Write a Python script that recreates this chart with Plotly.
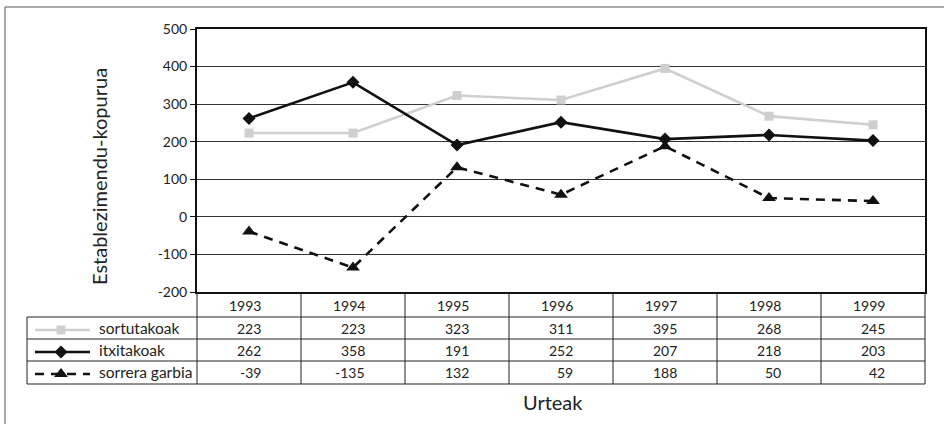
import plotly.graph_objects as go

years = ["1993", "1994", "1995", "1996", "1997", "1998", "1999"]
sortutakoak = [223, 223, 323, 311, 395, 268, 245]
itxitakoak = [262, 358, 191, 252, 207, 218, 203]
sorrera_garbia = [-39, -135, 132, 59, 188, 50, 42]
series_names = ["sortutakoak", "itxitakoak", "sorrera garbia"]
y_ticks = [-200, -100, 0, 100, 200, 300, 400, 500]

W, H = 944, 424
FONT = "Lato"
PL, PR, PT, PB = 197, 925, 29, 292  # plot area in pixels


def px(x):
    return x / W


def py(y):
    return 1 - y / H


fig = go.Figure()

styles = [
    dict(color="#cfcfcf", width=2.6, dash="solid", symbol="square", size=9),
    dict(color="#111111", width=2.6, dash="solid", symbol="diamond", size=10),
    dict(color="#111111", width=2.6, dash="9px,7px", symbol="triangle-up", size=12),
]
series = [sortutakoak, itxitakoak, sorrera_garbia]

for name, vals, st in zip(series_names, series, styles):
    fig.add_trace(go.Scatter(
        x=years, y=vals, mode="lines+markers", name=name,
        line=dict(color=st["color"], width=st["width"], dash=st["dash"]),
        marker=dict(symbol=st["symbol"], size=st["size"], color=st["color"]),
        xaxis="x", yaxis="y", showlegend=False, cliponaxis=False,
    ))

# legend samples inside the table (pixel-space overlay axis)
row_y = [330, 352, 374]
for name, st, ry in zip(series_names, styles, row_y):
    fig.add_trace(go.Scatter(
        x=[35, 90], y=[ry, ry], mode="lines",
        line=dict(color=st["color"], width=st["width"], dash=st["dash"]),
        xaxis="x2", yaxis="y2", showlegend=False, hoverinfo="skip",
    ))
    fig.add_trace(go.Scatter(
        x=[61], y=[ry], mode="markers",
        marker=dict(symbol=st["symbol"], size=st["size"], color=st["color"]),
        xaxis="x2", yaxis="y2", showlegend=False, hoverinfo="skip",
    ))

shapes = []
line_col = "#222222"
# outer frame
shapes.append(dict(type="line", xref="paper", yref="paper", x0=px(5), x1=px(944), y0=py(7), y1=py(7),
                   line=dict(color="#555555", width=1)))
shapes.append(dict(type="line", xref="paper", yref="paper", x0=px(5), x1=px(5), y0=py(7), y1=py(424),
                   line=dict(color="#555555", width=1)))
# table
row_edges = [PB, 317, 339, 361, 384]
for ye in row_edges[1:]:
    shapes.append(dict(type="line", xref="paper", yref="paper", x0=px(27), x1=px(PR), y0=py(ye), y1=py(ye),
                       line=dict(color=line_col, width=1)))
col_w = (PR - PL) / len(years)
for i in range(len(years) + 1):
    xx = PL + i * col_w
    shapes.append(dict(type="line", xref="paper", yref="paper", x0=px(xx), x1=px(xx), y0=py(PB), y1=py(384),
                       line=dict(color=line_col, width=1)))
shapes.append(dict(type="line", xref="paper", yref="paper", x0=px(27), x1=px(27), y0=py(317), y1=py(384),
                   line=dict(color=line_col, width=1)))

annotations = []
text_rows = [305, 328, 350, 372]
table_rows = [years, sortutakoak, itxitakoak, sorrera_garbia]
for ry, vals in zip(text_rows, table_rows):
    for i, v in enumerate(vals):
        annotations.append(dict(x=i, y=py(ry), xref="x", yref="paper", text=str(v), showarrow=False,
                                xanchor="right", yanchor="middle", xshift=14,
                                font=dict(family=FONT, size=14, color="#222222")))
for name, ry in zip(series_names, text_rows[1:]):
    annotations.append(dict(x=px(97), y=py(ry), xref="paper", yref="paper", text=name, showarrow=False,
                            xanchor="left", yanchor="middle",
                            font=dict(family=FONT, size=15.5, color="#222222")))
annotations.append(dict(x=px(99), y=py(177), xref="paper", yref="paper", text="Establezimendu-kopurua",
                        textangle=-90, showarrow=False, xanchor="center", yanchor="middle",
                        font=dict(family=FONT, size=20, color="#222222")))
annotations.append(dict(x=px(553), y=py(402), xref="paper", yref="paper", text="Urteak",
                        showarrow=False, xanchor="center", yanchor="middle",
                        font=dict(family=FONT, size=20, color="#222222")))

fig.update_layout(
    width=W, height=H,
    margin=dict(l=0, r=0, t=0, b=0, pad=0),
    paper_bgcolor="white", plot_bgcolor="rgba(0,0,0,0)",
    xaxis=dict(domain=[px(PL), px(PR)], type="category", categoryorder="array", categoryarray=years,
               range=[-0.5, 6.5], anchor="y",
               showticklabels=False, ticks="", showgrid=False, showline=True, linecolor="#111111",
               linewidth=2, mirror=True, zeroline=False, fixedrange=True),
    yaxis=dict(domain=[py(PB), py(PT)], range=[-200, 500], tickvals=y_ticks,
               ticktext=[str(v) for v in y_ticks], showgrid=True, anchor="x",
               gridcolor="#333333", gridwidth=1, ticks="outside", ticklen=5, tickcolor="#111111",
               showline=True, linecolor="#111111", linewidth=2, mirror=True, zeroline=False,
               tickfont=dict(family=FONT, size=14, color="#222222"), automargin=False),
    xaxis2=dict(domain=[0, 1], range=[0, W], visible=False, anchor="y2"),
    yaxis2=dict(domain=[0, 1], range=[H, 0], visible=False, anchor="x2"),
    shapes=shapes, annotations=annotations,
)

fig.write_html("out.html", config={"displayModeBar": False},
               post_script="document.body.style.margin='0';document.body.style.padding='0';")
